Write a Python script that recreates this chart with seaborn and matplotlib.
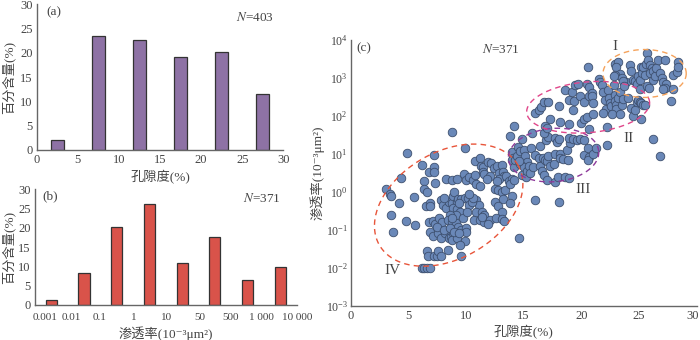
import numpy as np
import pandas as pd
import matplotlib
matplotlib.use("Agg")
import matplotlib.pyplot as plt
import seaborn as sns

# ---------------- data ----------------
por_bins = [2.5, 7.5, 12.5, 17.5, 22.5, 27.5]
por_pct = [2.0, 23.4, 22.7, 19.1, 20.2, 11.5]

perm_cats = ["0.001-0.01", "0.01-0.1", "0.1-1", "1-10", "10-50", "50-500", "500-1000", "1000-10000"]
perm_pct = [1.2, 8.3, 20.1, 26.1, 10.9, 17.5, 6.5, 9.8]
perm_tick_labels = ["0.001", "0.01", "0.1", "1", "10", "50", "500", "1 000", "10 000"]

porosity = [
    3.1, 3.4, 3.5, 3.5, 3.7, 4.2, 4.4, 4.8, 4.9, 5.6, 5.5, 6.2, 6.4, 6.4, 6.5, 6.6, 6.8, 6.9, 6.9, 6.8,
    6.9, 7.1, 7.1, 7.3, 6.6, 6.7, 6.2, 6.4, 6.6, 6.9, 7.2, 7.5, 7.6, 7.8, 8.4, 7.2, 7.2, 7.2, 7.3, 7.7,
    7.9, 7.6, 7.8, 8.2, 8.5, 8.7, 8.9, 8.8, 9.2, 8.3, 8.8, 8.8, 9.2, 9.8, 9.9, 10.0, 7.8, 8.0, 8.3, 8.5,
    8.8, 8.9, 9.0, 9.2, 9.3, 9.6, 9.9, 10.2, 10.3, 8.9, 9.2, 9.5, 9.1, 8.6, 8.4, 8.8, 9.1, 9.3, 9.6, 10.0,
    10.0, 9.9, 9.5, 9.6, 8.8, 10.3, 10.6, 10.8, 10.9, 11.2, 10.8, 11.2, 11.3, 11.5, 11.5, 11.9, 12.2, 12.4, 11.6, 12.1,
    11.8, 10.9, 11.1, 10.7, 10.9, 11.2, 11.4, 11.6, 11.6, 11.4, 12.1, 11.9, 10.5, 10.6, 10.3, 12.7, 13.1, 12.9, 13.2, 13.3,
    12.9, 12.7, 12.5, 12.8, 13.1, 13.4, 13.2, 12.5, 12.8, 13.1, 12.6, 13.1, 13.3, 13.5, 13.7, 14.0, 13.8, 14.2, 14.0, 13.8,
    13.8, 14.2, 14.6, 9.7, 10.1, 9.4, 8.1, 7.5, 8.1, 8.6, 9.0, 9.4,
    # group III
    14.0, 14.05, 14.0, 14.2, 14.25, 14.4, 14.5, 14.7, 14.9, 15.0, 15.1, 15.3, 14.7, 15.0, 14.6, 14.85, 15.2, 15.3, 15.5, 15.55,
    15.8, 15.7, 15.6, 16.0, 16.0, 16.3, 16.4, 16.65, 16.4, 16.6, 16.8, 17.0, 16.85, 17.0, 17.1, 16.9, 17.1, 16.8, 17.3, 17.6,
    17.7, 17.7, 18.0, 17.75, 17.9, 18.1, 18.15, 18.15, 18.4, 18.6, 18.9, 18.85, 18.8, 19.0, 18.9, 19.3, 19.6, 19.9, 20.2, 20.2,
    20.55, 20.7, 20.6, 21.0, 21.3, 18.1,
    # group II
    16.0, 16.3, 16.5, 16.8, 17.1, 17.3, 16.85, 17.05, 18.1, 18.15, 18.6, 18.9, 18.9, 19.2, 19.5, 19.4, 19.3, 19.7, 19.9, 20.2,
    20.5, 20.55, 20.65, 20.7, 20.9, 20.0, 20.2, 20.5, 20.7, 20.95, 21.0, 21.05, 21.5, 21.6, 21.8, 21.9, 22.05, 22.15, 21.85, 22.35,
    22.4, 22.5, 22.55, 22.25, 22.25, 22.8, 22.9, 22.9, 23.0, 23.05, 22.7, 23.2, 23.35, 23.5, 23.6, 23.35, 23.9, 24.05, 24.3, 24.5,
    24.65, 24.8, 24.95, 25.1, 25.2, 25.4, 25.5, 25.2,
    # group I
    22.9, 23.2, 23.05, 23.35, 22.9, 22.8, 23.5, 23.6, 23.75, 24.2, 24.35, 24.5, 24.65, 24.8, 24.95, 25.1, 25.1, 25.15, 25.25, 25.4,
    25.5, 25.65, 25.7, 25.8, 25.95, 26.1, 26.0, 26.25, 26.25, 25.7, 25.9, 26.4, 26.5, 26.7, 26.8, 27.0, 27.1, 27.25, 27.35, 27.25,
    27.1, 28.0, 28.0, 28.3, 28.4, 28.4, 27.8, 26.2, 26.8,
]
permeability = [
    1.2, 0.9, 0.8, 0.24, 0.09, 0.5, 2.3, 0.17, 10.5, 0.13, 0.75, 5.0, 1.9, 1.2, 0.43, 1.0, 3.3, 0.5, 0.42, 0.16,
    0.085, 0.17, 0.07, 0.14, 0.027, 0.02, 0.01, 0.01, 0.01, 0.01, 0.02, 0.02, 0.028, 0.02, 0.03, 9.5, 4.6, 3.4, 1.7, 0.2,
    0.16, 0.08, 0.06, 0.08, 0.06, 0.065, 0.08, 0.055, 0.06, 2.2, 39, 2.1, 2.2, 2.9, 14, 2.1, 0.6, 0.45, 0.38, 0.55,
    0.5, 0.8, 1.0, 0.55, 0.65, 0.65, 0.7, 0.68, 0.45, 0.38, 0.35, 0.3, 0.25, 0.25, 0.18, 0.16, 0.15, 0.12, 0.1, 0.11,
    0.085, 0.05, 0.04, 0.02, 0.2, 2.4, 2.1, 2.8, 1.6, 1.4, 6.6, 8.0, 4.7, 4.5, 3.4, 6.0, 5.6, 4.3, 2.9, 2.6,
    2.2, 0.6, 0.45, 0.18, 0.3, 0.18, 0.3, 0.25, 0.16, 0.22, 0.18, 0.14, 0.55, 0.7, 0.9, 4.9, 5.2, 3.2, 3.3, 2.6,
    2.2, 1.9, 1.2, 1.1, 1.0, 1.1, 0.65, 0.55, 0.43, 0.3, 0.2, 0.19, 0.17, 2.6, 1.9, 2.2, 1.6, 2.0, 0.8, 0.5,
    30, 55, 0.06, 0.2, 0.3, 0.5, 0.7, 0.12, 0.1, 0.11, 0.09, 0.08,
    # group III
    11, 8, 7, 4.5, 7, 9, 15, 12, 25, 13, 9, 6, 5.5, 4.6, 6.5, 2.8, 2.4, 3.5, 4.8, 3.2,
    4.4, 35, 14, 9.5, 0.6, 8, 16, 8, 4.7, 3.5, 2.7, 2.1, 6.8, 6.5, 9, 23, 28, 35, 4.7, 5.5,
    10, 1.8, 2.5, 26, 21, 24, 10, 8, 7.5, 2.5, 2.3, 7, 12.5, 19, 26, 24, 23, 25, 23, 9.5,
    14, 8.5, 7, 10, 14, 0.55,
    # group II
    120, 140, 175, 230, 230, 85, 53, 47, 185, 70, 480, 260, 63, 430, 650, 250, 140, 700, 340, 230,
    690, 2000, 570, 340, 400, 67, 85, 95, 45, 340, 220, 110, 950, 780, 650, 440, 260, 150, 120, 490,
    300, 220, 180, 52, 17, 650, 350, 250, 200, 150, 110, 300, 420, 190, 280, 110, 800, 300, 160, 100,
    140, 240, 270, 240, 220, 200, 200, 85,
    # group I
    2400, 2700, 2000, 1300, 1200, 1100, 1000, 850, 620, 2200, 1500, 900, 850, 700, 1100, 900, 500, 2000, 1400, 1900,
    1200, 2400, 4500, 3000, 2200, 1800, 1350, 1500, 900, 600, 550, 1100, 1800, 3000, 1350, 1000, 800, 3000, 680, 540,
    500, 520, 1200, 1450, 2700, 2000, 250, 24, 9,
]

# ellipses: centre porosity, centre log10(perm), semi-axes (porosity units), tilt (deg), colour, label
ell_names = ["IV", "III", "II", "I"]
ell_cx = [8.5, 17.6, 20.6, 25.5]
ell_cl = [-0.35, 0.97, 2.23, 3.12]
ell_a = [6.94, 3.93, 5.35, 3.61]
ell_b = [4.62, 2.31, 2.2, 2.08]
ell_ang = [30, 5, 5, 0]
ell_col = ["#e8553a", "#8e3a9a", "#e0468a", "#f5a35c"]
lab_x = [3.6, 20.2, 24.1, 22.9]
lab_perm = [0.0087, 1.17, 25.7, 6600]

por_ticks = [0, 5, 10, 15, 20, 25, 30]

# ---------------- style ----------------
sns.set_style("white")
plt.rcParams["font.family"] = ["Liberation Serif", "Noto Sans CJK SC", "DejaVu Sans"]
plt.rcParams["mathtext.fontset"] = "stix"
plt.rcParams["axes.unicode_minus"] = False
TXT = "#444444"
SP = "#666666"
LFS = 9.5

fig = plt.figure(figsize=(7, 3.4), dpi=100)
ax_a = fig.add_axes([0.0524, 0.559, 0.3524, 0.428])
ax_b = fig.add_axes([0.050, 0.103, 0.374, 0.341])
ax_c = fig.add_axes([0.501, 0.101, 0.494, 0.781])


def style(ax):
    for s in ["top", "right"]:
        ax.spines[s].set_visible(False)
    for s in ["left", "bottom"]:
        ax.spines[s].set_color(SP)
        ax.spines[s].set_linewidth(1.0)
    ax.tick_params(axis="both", which="major", direction="in", length=3, width=0.8,
                   color=SP, labelcolor=TXT, labelsize=9, pad=3)


def place_labels(ax, xl, yl, xpos, ypos):
    ax.set_xlabel(xl, fontsize=LFS, color=TXT)
    ax.set_ylabel(yl, fontsize=LFS, color=TXT)
    ax.xaxis.set_label_coords(0.5, xpos)
    ax.yaxis.set_label_coords(ypos, 0.5)
    ax.xaxis.label.set_va("center")
    ax.yaxis.label.set_va("center")


# (a) porosity histogram
df_a = pd.DataFrame({"por": por_bins, "pct": por_pct})
sns.barplot(data=df_a, x="por", y="pct", native_scale=True, width=0.32, ax=ax_a,
            color="#8e72a5", saturation=1, edgecolor="#333333", linewidth=0.9)
ax_a.set_xlim(0, 30)
ax_a.set_ylim(0, 30)
ax_a.set_xticks(por_ticks)
ax_a.set_yticks(range(0, 31, 5))
style(ax_a)
place_labels(ax_a, "孔隙度(%)", "百分含量(%)", -0.19, -0.115)
ax_a.text(0.04, 0.99, "(a)", transform=ax_a.transAxes, ha="left", va="top", fontsize=9.5, color=TXT)
ax_a.text(0.96, 0.91, "$N$=403", transform=ax_a.transAxes, ha="right", va="center", fontsize=9.5, color=TXT)

# (b) permeability histogram
df_b = pd.DataFrame({"cat": perm_cats, "pct": perm_pct})
sns.barplot(data=df_b, x="cat", y="pct", width=0.34, ax=ax_b, color="#d9534a",
            saturation=1, edgecolor="#333333", linewidth=0.9)
ax_b.set_xlim(-0.5, 7.5)
ax_b.set_ylim(0, 30)
ax_b.set_yticks(range(0, 31, 5))
ax_b.xaxis.remove_overlapping_locs = False
ax_b.set_xticks([-0.19, 0.62, 1.49, 2.51, 3.53, 4.54, 5.49, 6.44, 7.51])
ax_b.set_xticklabels(perm_tick_labels)
ax_b.set_xticks(np.arange(-0.5, 7.6, 1.0), minor=True)
style(ax_b)
ax_b.tick_params(axis="x", which="major", length=0, pad=6, labelsize=8)
ax_b.tick_params(axis="x", which="minor", direction="in", length=3, width=0.8, color=SP)
place_labels(ax_b, "渗透率(10⁻³μm²)", "百分含量(%)", -0.245, -0.103)
ax_b.text(0.03, 0.99, "(b)", transform=ax_b.transAxes, ha="left", va="top", fontsize=9.5, color=TXT)
ax_b.text(0.94, 0.92, "$N$=371", transform=ax_b.transAxes, ha="right", va="center", fontsize=9.5, color=TXT)

# (c) scatter
df_c = pd.DataFrame({"por": porosity, "perm": permeability})
ax_c.set_yscale("log")
sns.scatterplot(data=df_c, x="por", y="perm", ax=ax_c, s=38, color="#6a88b8",
                edgecolor="#3d4f6e", linewidth=0.6, zorder=3)
K = 3.29  # porosity units per decade on screen
t = np.linspace(0, 2 * np.pi, 300)
for cx, cl, a, b, ang, col in zip(ell_cx, ell_cl, ell_a, ell_b, ell_ang, ell_col):
    th = np.deg2rad(ang)
    u, v = a * np.cos(t), b * np.sin(t)
    ex = cx + u * np.cos(th) - v * np.sin(th)
    ey = 10 ** (cl + (u * np.sin(th) + v * np.cos(th)) / K)
    ax_c.plot(ex, ey, color=col, lw=1.0, ls=(0, (4, 3)), zorder=4)
for nm, lx, ly in zip(ell_names, lab_x, lab_perm):
    ax_c.text(lx, ly, nm, ha="center", va="center", fontsize=11, color=TXT)
ax_c.set_xlim(0, 30)
ax_c.set_ylim(1e-3, 1e4)
ax_c.set_xticks(por_ticks)
ax_c.set_xticklabels([str(v) for v in por_ticks[:-1]] + [""])
ax_c.set_yticks([10.0 ** k for k in range(-3, 5)])
ax_c.yaxis.set_minor_locator(matplotlib.ticker.NullLocator())
style(ax_c)
ax_c.tick_params(axis="y", labelsize=8.5, pad=2)
# last porosity tick label, right-aligned so it stays inside the figure
ax_c.annotate(str(por_ticks[-1]), xy=(por_ticks[-1], 0), xycoords=("data", "axes fraction"),
              xytext=(2, -3), textcoords="offset points", ha="right", va="top",
              fontsize=9, color=TXT, annotation_clip=False)
place_labels(ax_c, "孔隙度(%)", "渗透率(10⁻³μm²)", -0.1, -0.098)
ax_c.text(0.015, 0.99, "(c)", transform=ax_c.transAxes, ha="left", va="top", fontsize=9.5, color=TXT)
ax_c.text(13.0, 10 ** 3.75, "$N$=371", ha="center", va="center", fontsize=9.5, color=TXT)

fig.savefig("out.png", dpi=100)
